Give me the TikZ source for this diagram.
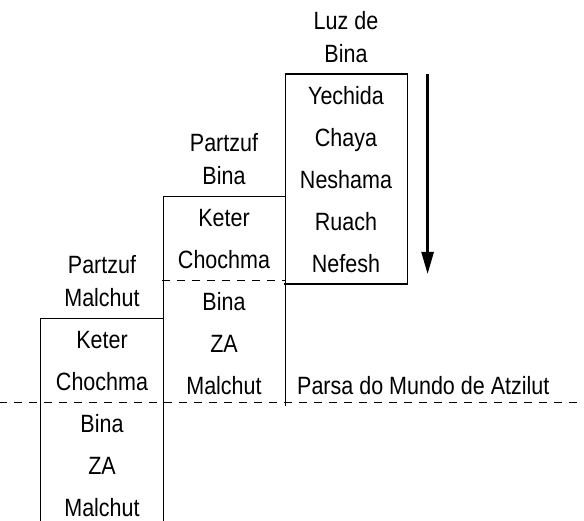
\documentclass[tikz,border=0pt]{standalone}
\usepackage{fontspec}
\setmainfont{Liberation Sans}[FakeStretch=0.86]
\usetikzlibrary{positioning, arrows.meta}

\begin{document}
\begin{tikzpicture}[
    x=1pt, y=1pt,
    line width=1.2pt,
    font=\fontsize{25}{33}\selectfont,
    cell/.style={minimum width=122pt, minimum height=40.8pt, inner sep=0pt, text height=20pt, text depth=1pt},
    heading/.style={align=center, inner sep=0pt},
    note/.style={inner sep=0pt, text height=20pt, text depth=1pt},
    parsa/.style={dash pattern=on 8pt off 7pt},
    flow/.style={line width=2.5pt, -{Triangle[length=22pt, width=12pt]}}
]
\useasboundingbox (0,0) rectangle (584,520);

% Partzuf Malchut
\node[cell] (pm_keter) at (102,180.6) {Keter};
\node[cell, below=0pt of pm_keter] (pm_chochma) {Chochma};
\node[cell, below=0pt of pm_chochma] (pm_bina) {Bina};
\node[cell, below=0pt of pm_bina] (pm_za) {ZA};
\node[cell, below=0pt of pm_za] (pm_malchut) {Malchut};
\node[heading, above=11pt of pm_keter] (pm_title) {Partzuf\\Malchut};

% Partzuf Bina
\node[cell] (pb_keter) at (224,302.6) {Keter};
\node[cell, below=0pt of pb_keter] (pb_chochma) {Chochma};
\node[cell, below=0pt of pb_chochma] (pb_bina) {Bina};
\node[cell, below=0pt of pb_bina] (pb_za) {ZA};
\node[cell, below=0pt of pb_za] (pb_malchut) {Malchut};
\node[heading, above=11pt of pb_keter] (pb_title) {Partzuf\\Bina};

% Luz de Bina
\node[cell] (lb_yechida) at (346,425) {Yechida};
\node[cell, below=0pt of lb_yechida] (lb_chaya) {Chaya};
\node[cell, below=0pt of lb_chaya] (lb_neshama) {Neshama};
\node[cell, below=0pt of lb_neshama] (lb_ruach) {Ruach};
\node[cell, below=0pt of lb_ruach] (lb_nefesh) {Nefesh};
\node[heading, above=11pt of lb_yechida] (lb_title) {Luz de\\Bina};

% Parsa
\node[note, right=11pt of pb_malchut] (parsa_label) {Parsa do Mundo de Atzilut};
\coordinate[left=41pt of pm_bina.north west] (parsa_w);
\coordinate[right=421pt of pm_bina.north east] (parsa_e);

% outlines
\draw (pm_malchut.south west) |- (pm_keter.north east);
\draw (pm_malchut.south east) |- (pb_keter.north east) -- (pb_malchut.south east);
\draw (pb_keter.north east) |- (lb_yechida.north east) -- (lb_nefesh.south east) -- (lb_nefesh.south west);

% dashed borders
\draw[parsa] (pb_bina.north west) -- (pb_bina.north east);
\draw[parsa] (parsa_w) -- (parsa_e);

% light flow
\coordinate[right=20pt of lb_yechida.north east] (flow_top);
\coordinate[above right=10pt and 20pt of lb_nefesh.south east] (flow_end);
\draw[flow] (flow_top) -- (flow_end);

\end{tikzpicture}
\end{document}
